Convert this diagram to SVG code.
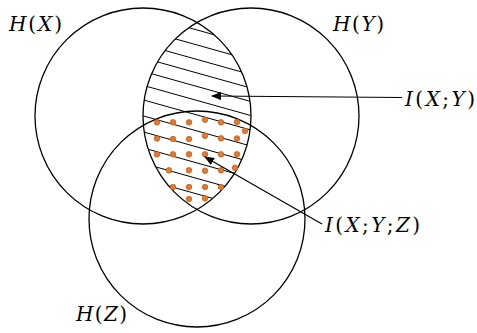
<svg xmlns="http://www.w3.org/2000/svg" width="477" height="333" viewBox="0 0 477 333">
<style>
.c{fill:none;stroke:#000;stroke-width:1.3}
.h{stroke:#000;stroke-width:1}
.d{fill:#E07A30;stroke:#B85A1A;stroke-width:0.7}
.t{font-family:"DejaVu Serif","Liberation Serif",serif;font-size:20px;fill:#000}
.i{font-style:italic}
.a{stroke:#000;stroke-width:1.2;fill:none}
</style>
<defs>
<clipPath id="cx"><circle cx="143" cy="116" r="108"/></clipPath>
<clipPath id="cy"><circle cx="251" cy="116" r="108"/></clipPath>
<marker id="ah" viewBox="0 0 10 8" refX="9" refY="4" markerWidth="10" markerHeight="8" markerUnits="userSpaceOnUse" orient="auto">
<path d="M0,0 L10,4 L0,8 Z" fill="#000"/>
</marker>
</defs>
<g id="hatch" clip-path="url(#cx)">
<g clip-path="url(#cy)">
<line class="h" x1="130" y1="11.2" x2="265" y2="49"/>
<line class="h" x1="130" y1="26.2" x2="265" y2="64"/>
<line class="h" x1="130" y1="40.7" x2="265" y2="78.5"/>
<line class="h" x1="130" y1="54.2" x2="265" y2="92"/>
<line class="h" x1="130" y1="67.7" x2="265" y2="105.5"/>
<line class="h" x1="130" y1="81.7" x2="265" y2="119.5"/>
<line class="h" x1="130" y1="96.2" x2="265" y2="134"/>
<line class="h" x1="130" y1="112.2" x2="265" y2="150"/>
<line class="h" x1="130" y1="128.2" x2="265" y2="166"/>
<line class="h" x1="130" y1="144.2" x2="265" y2="182"/>
<line class="h" x1="130" y1="159.7" x2="265" y2="197.5"/>
<line class="h" x1="130" y1="175.2" x2="265" y2="213"/>
<line class="h" x1="130" y1="190.7" x2="265" y2="228.5"/>
<line class="h" x1="130" y1="206.2" x2="265" y2="244"/>
</g>
</g>
<g id="circleX"><circle class="c" cx="143" cy="116" r="108"/></g>
<g id="circleY"><circle class="c" cx="251" cy="116" r="108"/></g>
<g id="circleZ"><circle class="c" cx="197" cy="219" r="108"/></g>
<g id="dots">
<circle class="d" cx="157" cy="122.3" r="2.8"/>
<circle class="d" cx="173" cy="122.3" r="2.8"/>
<circle class="d" cx="189" cy="122.3" r="2.8"/>
<circle class="d" cx="205" cy="119.7" r="2.8"/>
<circle class="d" cx="221" cy="122.3" r="2.8"/>
<circle class="d" cx="237" cy="122" r="2.8"/>
<circle class="d" cx="245" cy="131" r="2.8"/>
<circle class="d" cx="157" cy="138.5" r="2.8"/>
<circle class="d" cx="173" cy="139" r="2.8"/>
<circle class="d" cx="189" cy="139" r="2.8"/>
<circle class="d" cx="205" cy="135.7" r="2.8"/>
<circle class="d" cx="221" cy="138.3" r="2.8"/>
<circle class="d" cx="237" cy="138.5" r="2.8"/>
<circle class="d" cx="157" cy="154.3" r="2.8"/>
<circle class="d" cx="173" cy="154.3" r="2.8"/>
<circle class="d" cx="189" cy="154.3" r="2.8"/>
<circle class="d" cx="205" cy="154.3" r="2.8"/>
<circle class="d" cx="221" cy="154.3" r="2.8"/>
<circle class="d" cx="237" cy="154.3" r="2.8"/>
<circle class="d" cx="169" cy="170.3" r="2.8"/>
<circle class="d" cx="189" cy="170.3" r="2.8"/>
<circle class="d" cx="205" cy="170.7" r="2.8"/>
<circle class="d" cx="221" cy="170.3" r="2.8"/>
<circle class="d" cx="235" cy="167.7" r="2.8"/>
<circle class="d" cx="173" cy="187" r="2.8"/>
<circle class="d" cx="189" cy="187" r="2.8"/>
<circle class="d" cx="205" cy="187" r="2.8"/>
<circle class="d" cx="221" cy="187" r="2.8"/>
<circle class="d" cx="189" cy="199" r="2.8"/>
<circle class="d" cx="205" cy="198.3" r="2.8"/>
</g>
<g id="connectors">
<line class="a" x1="402" y1="97.5" x2="212" y2="96" marker-end="url(#ah)"/>
<line class="a" x1="322" y1="224" x2="205" y2="157" marker-end="url(#ah)"/>
</g>
<g id="labelHX"><text class="t" x="9" y="31" textLength="53" lengthAdjust="spacing"><tspan class="i">H</tspan>(<tspan class="i">X</tspan>)</text></g>
<g id="labelHY"><text class="t" x="333" y="31" textLength="51" lengthAdjust="spacing"><tspan class="i">H</tspan>(<tspan class="i">Y</tspan>)</text></g>
<g id="labelIXY"><text class="t" x="405" y="106" textLength="70" lengthAdjust="spacing"><tspan class="i">I</tspan>(<tspan class="i">X</tspan>;<tspan class="i">Y</tspan>)</text></g>
<g id="labelIXYZ"><text class="t" x="325" y="232" textLength="95" lengthAdjust="spacing"><tspan class="i">I</tspan>(<tspan class="i">X</tspan>;<tspan class="i">Y</tspan>;<tspan class="i">Z</tspan>)</text></g>
<g id="labelHZ"><text class="t" x="76" y="321" textLength="51" lengthAdjust="spacing"><tspan class="i">H</tspan>(<tspan class="i">Z</tspan>)</text></g>
</svg>
